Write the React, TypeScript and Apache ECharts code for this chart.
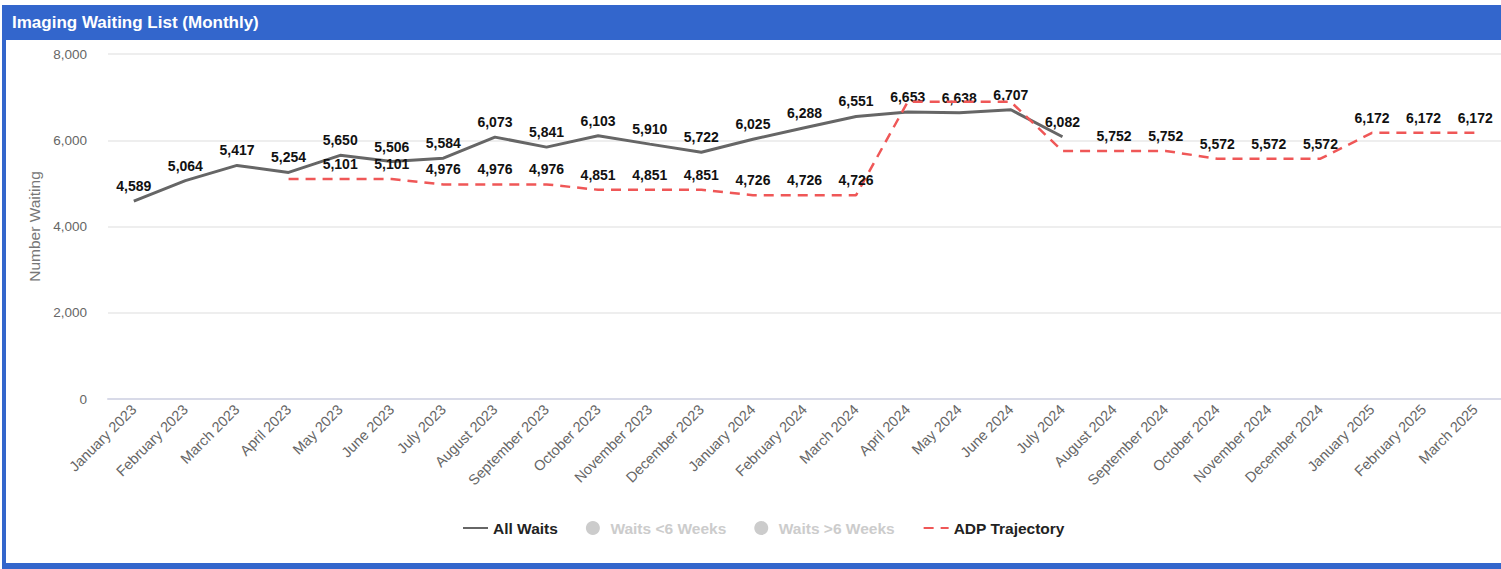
import React, { useEffect, useRef } from 'react';
import * as echarts from 'echarts';

const FONT = 'Arial, "Liberation Sans", sans-serif';

const months = [
  'January 2023', 'February 2023', 'March 2023', 'April 2023', 'May 2023', 'June 2023',
  'July 2023', 'August 2023', 'September 2023', 'October 2023', 'November 2023', 'December 2023',
  'January 2024', 'February 2024', 'March 2024', 'April 2024', 'May 2024', 'June 2024',
  'July 2024', 'August 2024', 'September 2024', 'October 2024', 'November 2024', 'December 2024',
  'January 2025', 'February 2025', 'March 2025',
];

const allWaits: (number | null)[] = [
  4589, 5064, 5417, 5254, 5650, 5506, 5584, 6073, 5841, 6103, 5910, 5722,
  6025, 6288, 6551, 6653, 6638, 6707, 6082,
  null, null, null, null, null, null, null, null,
];

const adpTrajectory: (number | null)[] = [
  null, null, null, 5101, 5101, 5101, 4976, 4976, 4976, 4851, 4851, 4851,
  4726, 4726, 4726, 6890, 6890, 6890, 5752, 5752, 5752, 5572, 5572, 5572,
  6172, 6172, 6172,
];

const yTicks = { min: 0, max: 8000, interval: 2000 };

const fmt = (v: number) => Number(v).toLocaleString('en-US');

export default function App() {
  const ref = useRef<HTMLDivElement>(null);

  useEffect(() => {
    if (!ref.current) return;
    const chart = echarts.init(ref.current, undefined, { renderer: 'svg' });

    const labelStyle = {
      show: true,
      position: 'top' as const,
      distance: 6,
      color: '#111',
      fontWeight: 'bold' as const,
      fontSize: 14,
      fontFamily: FONT,
      formatter: (p: any) => fmt(p.value),
    };

    // hide trajectory labels that would collide with the All Waits labels
    const adpData = adpTrajectory.map((v, i) => {
      if (v == null) return null;
      const a = allWaits[i];
      const clash = a != null && Math.abs(a - v) < 380;
      return clash ? { value: v, label: { show: false } } : v;
    });

    const option: any = {
      animation: false,
      backgroundColor: '#fff',
      graphic: [
        { type: 'rect', shape: { x: 2, y: 5, width: 1499, height: 35 }, style: { fill: '#3366CC' } },
        { type: 'rect', shape: { x: 2, y: 5, width: 4, height: 564 }, style: { fill: '#3366CC' } },
        { type: 'rect', shape: { x: 2, y: 563, width: 1499, height: 6 }, style: { fill: '#3366CC' } },
        {
          type: 'text', x: 12, y: 22,
          style: {
            text: 'Imaging Waiting List (Monthly)', fill: '#fff', font: `bold 17px ${FONT}`,
            textVerticalAlign: 'middle',
          },
        },
      ],
      grid: { left: 108, top: 54, width: 1400, height: 345 },
      legend: {
        left: 457,
        top: 515,
        itemWidth: 25,
        itemHeight: 14,
        itemGap: 28,
        inactiveColor: '#ccc',
        textStyle: { fontWeight: 'bold', fontSize: 15.5, color: '#222', fontFamily: FONT },
        data: [
          { name: 'All Waits' },
          { name: 'Waits <6 Weeks', icon: 'circle' },
          { name: 'Waits >6 Weeks', icon: 'circle' },
          { name: 'ADP Trajectory' },
        ],
        selected: { 'Waits <6 Weeks': false, 'Waits >6 Weeks': false },
      },
      xAxis: {
        type: 'category',
        data: months,
        boundaryGap: true,
        axisLine: { show: true, lineStyle: { color: '#d8dae8', width: 2 } },
        axisTick: { show: false },
        axisLabel: {
          rotate: 45,
          interval: 0,
          margin: 8,
          color: '#666',
          fontSize: 14.5,
          fontFamily: FONT,
        },
      },
      yAxis: {
        type: 'value',
        min: yTicks.min,
        max: yTicks.max,
        interval: yTicks.interval,
        name: 'Number Waiting',
        nameLocation: 'middle',
        nameGap: 65,
        nameTextStyle: { color: '#777', fontSize: 15.5, fontFamily: FONT },
        axisLine: { show: false },
        axisTick: { show: false },
        axisLabel: { color: '#666', fontSize: 13.5, fontFamily: FONT, margin: 21, formatter: (v: number) => fmt(v) },
        splitLine: { lineStyle: { color: '#e8e8e8', width: 1.5 } },
      },
      series: [
        {
          name: 'All Waits',
          type: 'line',
          data: allWaits,
          symbol: 'circle',
          symbolSize: 4,
          showSymbol: true,
          itemStyle: { color: 'rgba(0,0,0,0)', borderWidth: 0 },
          lineStyle: { color: '#666', width: 3 },
          label: labelStyle,
          z: 2,
        },
        { name: 'Waits <6 Weeks', type: 'line', data: [], itemStyle: { color: '#3366CC' } },
        { name: 'Waits >6 Weeks', type: 'line', data: [], itemStyle: { color: '#DC3912' } },
        {
          name: 'ADP Trajectory',
          type: 'line',
          data: adpData,
          symbol: 'circle',
          symbolSize: 4,
          showSymbol: true,
          itemStyle: { color: 'rgba(0,0,0,0)', borderWidth: 0 },
          lineStyle: { color: '#EF5757', width: 2.5, type: [10, 7] },
          label: labelStyle,
          z: 3,
        },
      ],
    };

    chart.setOption(option);
    return () => chart.dispose();
  }, []);

  return (
    <div
      ref={ref}
      style={{ position: 'absolute', left: 0, top: 0, width: 1501, height: 569, overflow: 'hidden' }}
    />
  );
}
